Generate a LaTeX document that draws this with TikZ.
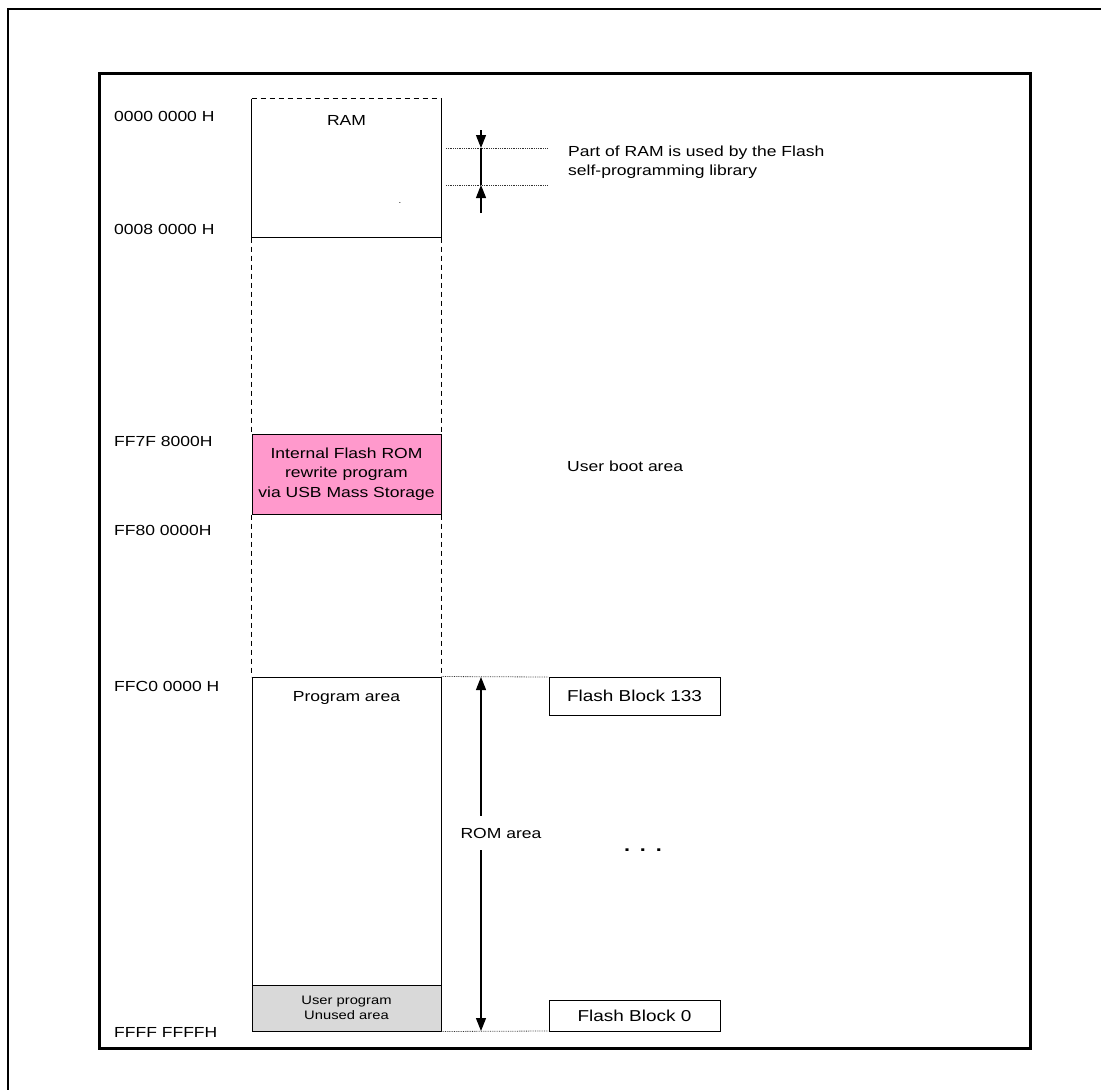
\documentclass[tikz,border=0pt]{standalone}
\usepackage{fontspec}
\setmainfont{Liberation Sans}[FakeStretch=1.2]
\usetikzlibrary{arrows.meta}
\definecolor{pinkfill}{RGB}{255,153,204}
\definecolor{grayfill}{RGB}{217,217,217}
\tikzset{
  lbl/.style={font=\fontsize{14.6}{17}\selectfont, inner sep=0pt},
  addr/.style={lbl, anchor=west},
  membox/.style={minimum width=189pt, inner sep=0pt, line width=1pt},
  blockbox/.style={draw, line width=1pt, minimum width=171pt, inner sep=0pt, font=\fontsize{15.8}{18}\selectfont},
  guide/.style={densely dotted, line width=0.8pt, black!80},
  memdash/.style={dashed, dash pattern=on 5pt off 4pt, line width=0.9pt},
  tri/.style={-{Triangle[length=13pt,width=10pt]}, line width=1.1pt},
}
\begin{document}
\begin{tikzpicture}[x=1pt,y=-1pt]
\useasboundingbox (0,0) rectangle (1101,1090);
% frames
\draw[line width=2pt] (8,1095) -- (8,9) -- (1106,9);
\draw[line width=3pt] (99,73) rectangle (1030,1048);

% memory boxes
\node[membox, minimum height=138pt] (ram) at (346.5,168) {};
\node[membox, draw, fill=pinkfill, minimum height=80pt, align=center, lbl] (boot) at (346.5,474)
  {Internal Flash ROM\\[2.5pt]rewrite program\\[2.5pt]via USB Mass Storage};
\node[membox, draw, minimum height=354pt] (prog) at (346.5,854) {};
\node[membox, draw, fill=grayfill, minimum height=46pt, align=center,
      font=\fontsize{12.3}{15}\selectfont] (unused) at (346.5,1008) {User program\\Unused area};

\draw[memdash] (ram.north west) -- (ram.north east);
\draw[line width=1pt] (ram.north west) -- (ram.south west) -- (ram.south east) -- (ram.north east);
\node[lbl] (ramlbl) at (346.5,120) {RAM};
\node[lbl, font=\fontsize{8}{8}\selectfont] (ramdot) at (400,203) {.};
\node[lbl] (proglbl) at (346.5,698) {Program area};

\draw[memdash] (ram.south west) -- (boot.north west);
\draw[memdash] (ram.south east) -- (boot.north east);
\draw[memdash] (boot.south west) -- (prog.north west);
\draw[memdash] (boot.south east) -- (prog.north east);

% address labels
\node[addr] (a0) at (114,116) {0000 0000 H};
\node[addr] (a1) at (114,229) {0008 0000 H};
\node[addr] (a2) at (114,441) {FF7F 8000H};
\node[addr] (a3) at (114,530) {FF80 0000H};
\node[addr] (a4) at (114,686) {FFC0 0000 H};
\node[addr] (a5) at (114,1032) {FFFF FFFFH};

% RAM part arrows
\coordinate (g1a) at (446,148); \coordinate (g1b) at (548,148);
\coordinate (g2a) at (446,185); \coordinate (g2b) at (548,185);
\draw[guide] (g1a) -- (g1b);
\draw[guide] (g2a) -- (g2b);
\coordinate (r0) at (481,130);
\coordinate (r1) at (481,148);
\coordinate (r2) at (481,185);
\coordinate (r3) at (481,213);
\draw[tri] (r0) -- (r1);
\draw[line width=1.1pt] (r1) -- (r2);
\draw[tri] (r3) -- (r2);
\node[lbl, anchor=west, align=left] (ramnote) at (568,162)
  {Part of RAM is used by the Flash\\[2pt]self-programming library};

\node[lbl, anchor=west] (bootlbl) at (567,466) {User boot area};

% ROM area arrow
\coordinate (t0) at (481,677);
\coordinate (t1) at (481,1031);
\draw[guide] (prog.north east) -- (548,677);
\draw[guide] (prog.south east) -- (548,1031);
\node[lbl, fill=white, inner ysep=12pt, inner xsep=2pt] (romlbl) at (501,833) {ROM area};
\draw[tri] (romlbl.north -| t0) -- (t0);
\draw[tri] (romlbl.south -| t1) -- (t1);

% flash blocks
\node[blockbox, minimum height=38pt] (fb133) at (634.5,696) {Flash Block 133};
\node[blockbox, minimum height=31pt] (fb0) at (634.5,1015.5) {Flash Block 0};
\node[lbl, anchor=base, font=\fontsize{18}{18}\bfseries] (dots) at (643,851) {.\hspace{10pt}.\hspace{10pt}.};
\end{tikzpicture}
\end{document}
